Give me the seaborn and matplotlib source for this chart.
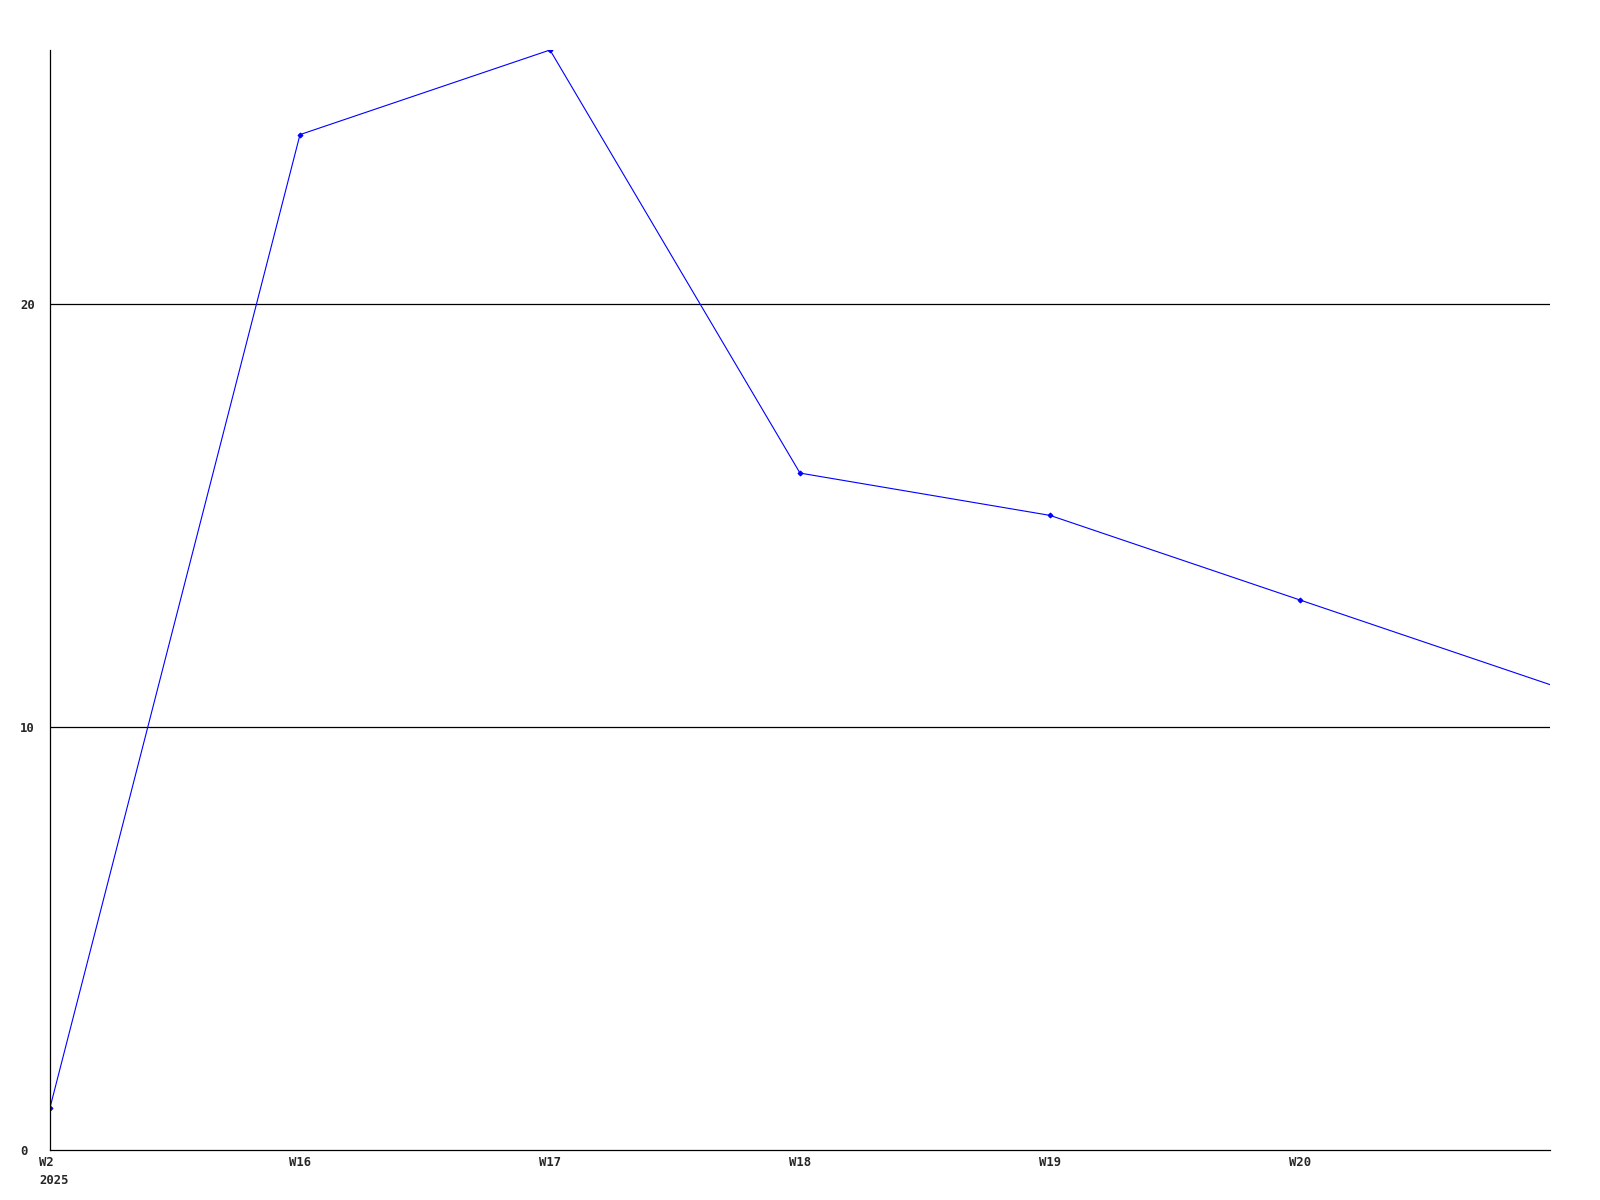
import matplotlib
matplotlib.use('Agg')
import matplotlib.pyplot as plt
import matplotlib.transforms as mtrans
import seaborn as sns
import pandas as pd

# weekly values, last point is the (unlabeled) current week
weeks = ['W2\n2025', 'W16', 'W17', 'W18', 'W19', 'W20', 'W21']
values = [1, 24, 26, 16, 15, 13, 11]
tick_labels = ['W2\n2025', 'W16', 'W17', 'W18', 'W19', 'W20']
y_ticks = [0, 10, 20]

df = pd.DataFrame({'pos': range(len(weeks)), 'value': values})

sns.set_style('white')
plt.rcParams['font.family'] = ['DejaVu Sans Mono']

fig = plt.figure(figsize=(16, 12), dpi=100)
ax = fig.add_axes([50 / 1600, 50 / 1200, 1500 / 1600, 1100 / 1200])

sns.lineplot(data=df, x='pos', y='value', ax=ax, color='#0000ff',
             linewidth=0.8, marker='D', markersize=2.5,
             markeredgecolor='#0000ff', markerfacecolor='#0000ff',
             markevery=list(range(len(tick_labels))))

for y in y_ticks[1:]:
    ax.axhline(y, color='black', linewidth=0.9, zorder=0)

ax.set_xlim(0, len(weeks) - 1)
ax.set_ylim(0, max(values))
ax.set_xticks(range(len(tick_labels)))
ax.set_xticklabels(tick_labels, fontsize=8.8, fontweight='bold',
                   multialignment='left', linespacing=1.5)
ax.set_yticks(y_ticks)
ax.set_yticklabels([str(t) for t in y_ticks], fontsize=8.8, fontweight='bold')
for lbl in ax.get_yticklabels():
    lbl.set_horizontalalignment('left')
ax.tick_params(axis='y', length=0, pad=21.6)
ax.tick_params(axis='x', length=0, pad=4)
ax.set_xlabel('')
ax.set_ylabel('')

# nudge the two-line first label a little to the right, like the original
first = ax.get_xticklabels()[0]
first.set_transform(first.get_transform() +
                    mtrans.ScaledTranslation(4 / 100, 0, fig.dpi_scale_trans))

sns.despine(ax=ax)
for side in ['left', 'bottom']:
    ax.spines[side].set_color('black')
    ax.spines[side].set_linewidth(0.9)

fig.savefig('out.png', dpi=100)
